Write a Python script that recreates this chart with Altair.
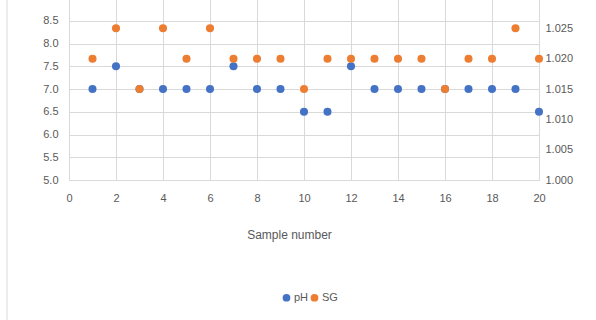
import altair as alt
import pandas as pd

samples = list(range(1, 21))
ph = [7.0, 7.5, 7.0, 7.0, 7.0, 7.0, 7.5, 7.0, 7.0, 6.5,
      6.5, 7.5, 7.0, 7.0, 7.0, 7.0, 7.0, 7.0, 7.0, 6.5]
sg = [1.020, 1.025, 1.015, 1.025, 1.020, 1.025, 1.020, 1.020, 1.020, 1.015,
      1.020, 1.020, 1.020, 1.020, 1.020, 1.015, 1.020, 1.020, 1.025, 1.020]
x_ticks = list(range(0, 21, 2))
ph_ticks = [5.0, 5.5, 6.0, 6.5, 7.0, 7.5, 8.0, 8.5]
sg_ticks = [1.000, 1.005, 1.010, 1.015, 1.020, 1.025]

df_ph = pd.DataFrame({"Sample": samples, "value": ph, "series": "pH"})
df_sg = pd.DataFrame({"Sample": samples, "value": sg, "series": "SG"})

FONT = "Liberation Sans"
GRAY = "#595959"
GRID = "#d9d9d9"

color = alt.Color(
    "series:N",
    scale=alt.Scale(domain=["pH", "SG"], range=["#4472C4", "#ED7D31"]),
    legend=alt.Legend(
        title=None, orient="none", direction="horizontal",
        legendX=212, legendY=294, symbolType="circle", symbolSize=60,
        labelFont=FONT, labelFontSize=11, labelColor=GRAY,
        columnPadding=0, labelOffset=2, symbolStrokeWidth=0,
    ),
)

x_enc = alt.X(
    "Sample:Q",
    scale=alt.Scale(domain=[0, 20], nice=False),
    axis=alt.Axis(
        values=x_ticks, title="Sample number", grid=True, gridColor=GRID,
        domainColor=GRID, ticks=False, labelPadding=12, labelFlush=False,
        labelFont=FONT, labelFontSize=11, labelColor=GRAY, titleFont=FONT,
        titleFontSize=12, titleFontWeight="normal", titleColor=GRAY,
        titlePadding=26, titleX=220,
    ),
)

ph_layer = alt.Chart(df_ph).mark_circle(size=65, opacity=1).encode(
    x=x_enc,
    y=alt.Y(
        "value:Q",
        scale=alt.Scale(domain=[5.0, 9.0], nice=False, zero=False),
        axis=alt.Axis(
            values=ph_ticks, gridColor=GRID, grid=True, domain=False, ticks=False,
            title=None, format=".1f", labelPadding=11, labelFlush=False,
            labelFont=FONT, labelFontSize=11, labelColor=GRAY,
        ),
    ),
    color=color,
)

sg_layer = alt.Chart(df_sg).mark_circle(size=65, opacity=1).encode(
    x=x_enc,
    y=alt.Y(
        "value:Q",
        scale=alt.Scale(domain=[1.000, 1.030], nice=False, zero=False),
        axis=alt.Axis(
            orient="right", values=sg_ticks, grid=False, domain=False, ticks=False,
            title=None, format=".3f", labelPadding=6, labelFlush=False,
            labelFont=FONT, labelFontSize=11, labelColor=GRAY,
        ),
    ),
    color=color,
)

border = alt.Chart(pd.DataFrame({"a": [0]})).mark_rule(color=GRID, strokeWidth=1).encode(
    x=alt.value(-62), y=alt.value(-5), y2=alt.value(330)
)

chart = alt.layer(border, ph_layer, sg_layer).resolve_scale(y="independent").properties(
    width=470, height=182,
    autosize=alt.AutoSizeParams(type="none"),
    padding={"left": 69, "top": -2, "right": 57, "bottom": 140},
).configure_view(stroke=None).configure(background="white")

chart.save("out.html", embed_options={"renderer": "svg", "actions": False})
